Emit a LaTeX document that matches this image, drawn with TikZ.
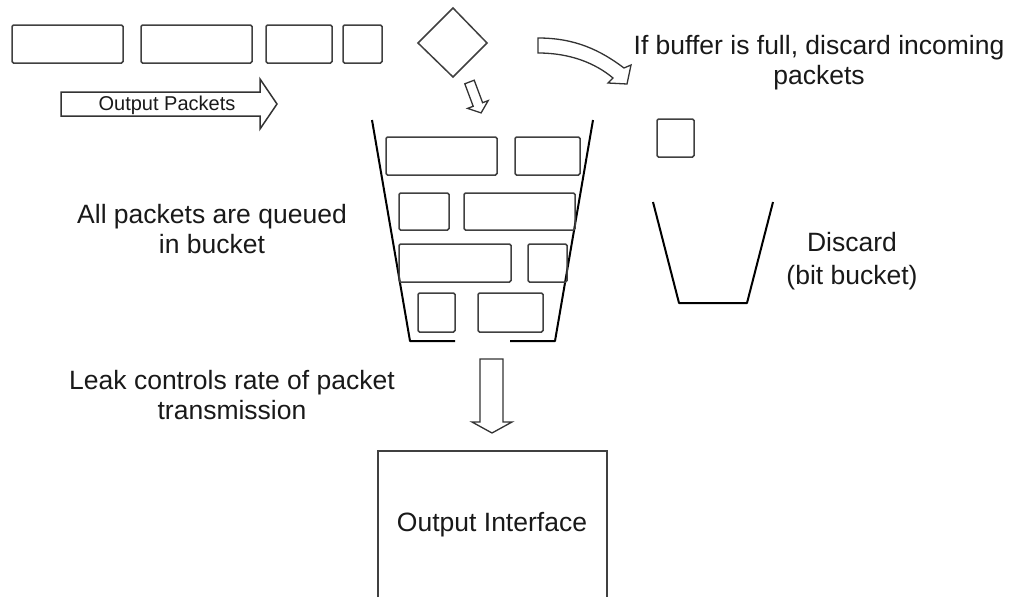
\documentclass[tikz,border=0pt]{standalone}
\usepackage{fontspec}
\setmainfont{Liberation Sans}
\begin{document}
\begin{tikzpicture}[x=1pt,y=-1pt,
  pk/.style={draw=black!75,line width=1.5pt,rounded corners=1.5pt},
  wall/.style={draw=black,line width=2pt,line join=round},
  hollow/.style={draw=black!80,line width=1.5pt,line join=miter,fill=white},
  lbl/.style={text=black!90,align=center,inner sep=0pt,font=\fontsize{26.5}{30}\selectfont},
  small/.style={text=black!90,inner sep=0pt,font=\fontsize{20}{22}\selectfont}]
\useasboundingbox (0,0) rectangle (1011,597);
% incoming packets
\draw[pk] (12,25) rectangle (123,63);
\draw[pk] (141,25) rectangle (252,63);
\draw[pk] (266,25) rectangle (332,63);
\draw[pk] (343,25) rectangle (382,63);
\draw[pk,rounded corners=0pt] (418,43) -- (453,8) -- (487,43) -- (453,77) -- cycle;
% Output Packets arrow
\draw[hollow] (61,92) -- (260,92) -- (260,79) -- (277,104) -- (260,129) -- (260,116) -- (61,116) -- cycle;
\node[small] (op) at (167,105) {Output Packets};
% small arrow into bucket
\draw[hollow,line width=1.3pt] (464.8,83.8) -- (474.2,80.2) -- (482.6,102.7) -- (488.2,100.6) -- (481.1,112.9) -- (467.6,108.4) -- (473.2,106.3) -- cycle;
% curved arrow to discard
\draw[hollow,line width=1.3pt] (538,38) .. controls (575,38) and (600,50) .. (624,68)
  -- (631,65) -- (627,84) -- (608,83) -- (613,78)
  .. controls (595,63) and (570,53) .. (538,53) -- cycle;
\node[lbl] (full) at (819,63) {If buffer is full, discard incoming\\packets};
% bucket
\draw[wall] (372,120) -- (410,341) -- (455,341);
\draw[wall] (593,120) -- (555,341) -- (510,341);
\draw[pk] (386,137) rectangle (497,175);
\draw[pk] (515,137) rectangle (580,175);
\draw[pk] (399,193) rectangle (449,230);
\draw[pk] (464,193) rectangle (575,230);
\draw[pk] (399,244) rectangle (511,282);
\draw[pk] (528,244) rectangle (567,282);
\draw[pk] (418,293) rectangle (455,332);
\draw[pk] (478,293) rectangle (543,332);
\node[lbl] (queued) at (212,229) {All packets are queued\\in bucket};
% discarded packet and bit bucket
\draw[pk] (657,119) rectangle (694,157);
\draw[wall] (653,202) -- (679,303) -- (747,303) -- (773,202);
\node[lbl,font=\fontsize{26.5}{33}\selectfont] (discard) at (852,261) {Discard\\(bit bucket)};
% leak arrow
\node[lbl] (leak) at (232,395) {Leak controls rate of packet\\transmission};
\draw[hollow,line width=1.3pt] (480,359) -- (503,359) -- (503,422) -- (512,422) -- (492,433) -- (472,422) -- (480,422) -- cycle;
% output interface
\draw[pk,rounded corners=0pt] (378,597) -- (378,451) -- (607,451) -- (607,597);
\node[lbl] (oi) at (492,525) {Output Interface};
\end{tikzpicture}
\end{document}
